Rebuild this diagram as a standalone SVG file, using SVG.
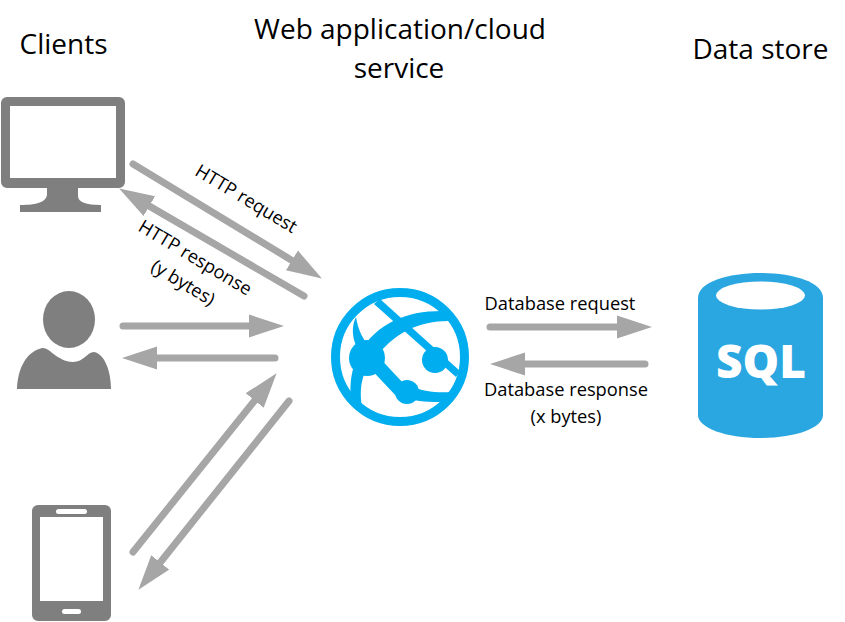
<svg xmlns="http://www.w3.org/2000/svg" width="845" height="622" viewBox="0 0 845 622">
<style>
text{font-family:"Open Sans","Liberation Sans",sans-serif;fill:#000}
.t{font-size:28px;text-anchor:middle}
.l{font-size:18.300px;text-anchor:middle}
.c line{stroke:#a6a6a6;stroke-width:7;stroke-linecap:round;marker-end:url(#h)}
.g{fill:#7f7f7f}
.b{fill:#00adef}
</style>
<defs><marker id="h" markerUnits="userSpaceOnUse" markerWidth="38" markerHeight="26" refX="1" refY="12" orient="auto"><path d="M0 .5L35 12L0 23.500Z" fill="#a6a6a6"/></marker></defs>
<rect width="845" height="622" fill="#fff"/>
<g id="title-clients"><text class="t" x="63.500" y="53.500">Clients</text></g>
<g id="title-web"><text class="t" x="400" y="38.500">Web application/cloud</text><text class="t" x="399" y="77.500">service</text></g>
<g id="title-data"><text class="t" x="760.500" y="58.500">Data store</text></g>
<g id="connectors" class="c">
<line x1="133" y1="164" x2="292.800" y2="260.900"/>
<line x1="304" y1="296" x2="148.500" y2="205.600"/>
<line x1="123" y1="326" x2="250" y2="326"/>
<line x1="275" y1="358" x2="156" y2="358"/>
<line x1="133" y1="552" x2="255.300" y2="399.700"/>
<line x1="289" y1="401" x2="159.600" y2="563.200"/>
<line x1="490" y1="327" x2="618" y2="327"/>
<line x1="645" y1="364" x2="524" y2="364"/>
</g>
<g id="label-http-request"><text class="l" transform="translate(243 204) rotate(31)">HTTP request</text></g>
<g id="label-http-response"><text class="l" transform="translate(192 263) rotate(31)">HTTP response</text><text class="l" transform="translate(180 288) rotate(31)">(y bytes)</text></g>
<g id="label-db-request"><text class="l" x="560" y="309.500">Database request</text></g>
<g id="label-db-response"><text class="l" x="566" y="396">Database response</text><text class="l" x="566" y="422.500">(x bytes)</text></g>
<g id="client-desktop" class="g">
<path fill-rule="evenodd" d="M7 97H119a6 6 0 0 1 6 6V182a6 6 0 0 1-6 6H78V196C78 202 86 205 101 205V212H20V205C37 205 47 202 47 194V188H7a6 6 0 0 1-6-6V103a6 6 0 0 1 6-6ZM10 106V178H116V106Z"/>
</g>
<g id="client-user" class="g">
<ellipse cx="69" cy="319.500" rx="26" ry="28.500"/>
<path d="M17 389C18 368 26 352 42 348C50 347 56 361 73 362C84 362 87 352 94 352C105 354 111 372 111 389Z"/>
</g>
<g id="client-phone">
<path class="g" fill-rule="evenodd" d="M38 505H105a6 6 0 0 1 6 6V615a6 6 0 0 1-6 6H38a6 6 0 0 1-6-6V511a6 6 0 0 1 6-6ZM40 517V601H103V517Z"/>
<rect x="56" y="509" width="31" height="5" rx="2.500" fill="#fff"/>
<rect x="62" y="609" width="19" height="5" rx="2.500" fill="#fff"/>
</g>
<g id="web-app" class="b">
<circle cx="400" cy="357" r="64.500" fill="none" stroke="#00adef" stroke-width="9"/>
<circle cx="367" cy="358" r="18"/>
<circle cx="435" cy="360" r="13"/>
<circle cx="407" cy="392" r="12"/>
<path d="M374 304L380 299L460 371L456 377Z"/>
<path d="M360 352C378 322 408 310 446 311L448 321C420 321 394 332 374 360Z"/>
<path d="M356 317C349 332 355 346 362 356L372 350C363 340 358 330 356 317Z"/>
<path d="M354 366L366 370C360 382 360 395 362 408L351 404C350 390 350 378 354 366Z"/>
<path d="M375 353L404 384L410 396L398 398L366 364Z"/>
<path d="M408 385C423 392 438 393 452 392L444 402C430 402 418 402 406 398Z"/>
</g>
<g id="data-store">
<path d="M698 298C698 282 728 273 760.500 273C793 273 823 282 823 298V415C823 428 795 438 760.500 438C726 438 698 428 698 415Z" fill="#2aa6e0"/>
<ellipse cx="760.500" cy="295.500" rx="44.500" ry="14" fill="#fff"/>
<text x="761" y="378" text-anchor="middle" style="font-size:46px;font-weight:800;fill:#fff">SQL</text>
</g>
</svg>
